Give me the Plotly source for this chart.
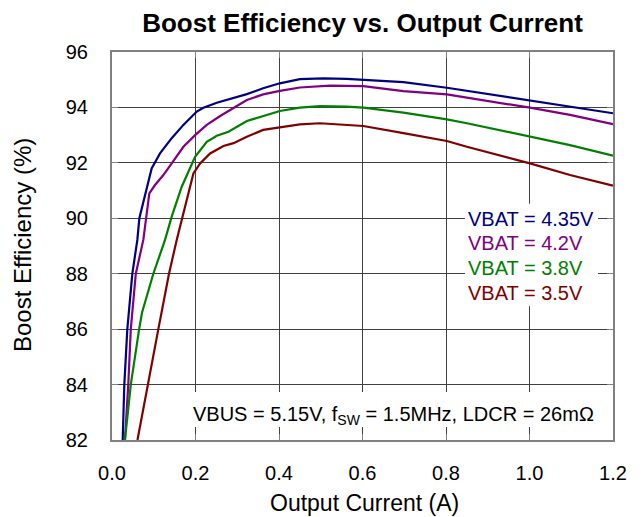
import plotly.graph_objects as go

# Output current (A) and boost efficiency (%) for each VBAT
x_435 = [0.0256, 0.0295, 0.0367, 0.0487, 0.0607, 0.0655, 0.095, 0.115, 0.143, 0.171, 0.203, 0.219, 0.251,
         0.299, 0.323, 0.362, 0.402, 0.450, 0.506, 0.562, 0.602, 0.698, 0.802, 0.850, 1.001, 1.097, 1.2]
y_435 = [82.0, 84.0, 86.0, 88.0, 89.22, 90.0, 91.80, 92.34, 92.89, 93.37, 93.85, 93.99, 94.17,
         94.37, 94.48, 94.69, 94.87, 95.02, 95.05, 95.03, 94.99, 94.91, 94.71, 94.60, 94.27, 94.05, 93.79]

x_42 = [0.031, 0.039, 0.045, 0.057, 0.075, 0.0894, 0.103, 0.123, 0.143, 0.171, 0.199, 0.227, 0.259,
        0.291, 0.323, 0.362, 0.402, 0.450, 0.522, 0.602, 0.698, 0.802, 0.850, 1.001, 1.097, 1.2]
y_42 = [82.0, 84.0, 86.0, 88.0, 89.22, 90.90, 91.20, 91.56, 91.98, 92.58, 93.00, 93.37, 93.69,
        93.99, 94.27, 94.47, 94.60, 94.72, 94.79, 94.77, 94.59, 94.47, 94.36, 93.99, 93.73, 93.40]

x_38 = [0.031, 0.045, 0.065, 0.072, 0.099, 0.127, 0.143, 0.167, 0.199, 0.227, 0.251, 0.279, 0.323,
        0.362, 0.402, 0.450, 0.498, 0.562, 0.602, 0.698, 0.802, 0.850, 1.001, 1.097, 1.2]
y_38 = [82.0, 84.0, 86.0, 86.6, 88.0, 89.22, 90.06, 91.14, 92.22, 92.76, 92.98, 93.12, 93.51,
        93.69, 93.87, 93.99, 94.05, 94.03, 93.99, 93.81, 93.57, 93.43, 92.94, 92.64, 92.26]

x_35 = [0.061, 0.0855, 0.111, 0.1365, 0.155, 0.179, 0.195, 0.211, 0.235, 0.267, 0.291, 0.323, 0.362,
        0.402, 0.450, 0.498, 0.562, 0.602, 0.698, 0.802, 0.850, 1.001, 1.097, 1.2]
y_35 = [82.0, 84.0, 86.0, 88.0, 89.22, 90.66, 91.62, 91.98, 92.34, 92.61, 92.71, 92.94, 93.19,
        93.28, 93.39, 93.43, 93.37, 93.33, 93.07, 92.79, 92.58, 91.98, 91.56, 91.18]

series_names = ["VBAT = 4.35V", "VBAT = 4.2V", "VBAT = 3.8V", "VBAT = 3.5V"]
series_colors = ["#000080", "#800080", "#008000", "#800000"]
series_x = [x_435, x_42, x_38, x_35]
series_y = [y_435, y_42, y_38, y_35]

x_ticks = [0.0, 0.2, 0.4, 0.6, 0.8, 1.0, 1.2]
x_tick_labels = ["0.0", "0.2", "0.4", "0.6", "0.8", "1.0", "1.2"]
y_ticks = [82, 84, 86, 88, 90, 92, 94, 96]

FONT = "Liberation Sans, Arial, sans-serif"
W, H = 642, 517
L, R, T, B = 112, 29, 52, 77

fig = go.Figure()
for xs, ys, name, col in zip(series_x, series_y, series_names, series_colors):
    fig.add_trace(go.Scatter(x=xs, y=ys, mode="lines", name=name,
                             line=dict(color=col, width=2.2), showlegend=False))

# legend box (white background over grid)
fig.add_shape(type="rect", xref="x", yref="y", x0=0.8455, x1=1.164, y0=86.83, y1=90.52,
              fillcolor="white", line=dict(width=0), layer="above")
legend_y = [89.97, 89.11, 88.21, 87.30]
for name, col, ly in zip(series_names, series_colors, legend_y):
    fig.add_annotation(x=0.848, y=ly, xref="x", yref="y", text=name, showarrow=False,
                       xanchor="left", yanchor="middle",
                       font=dict(family=FONT, size=20, color=col))

# conditions box
fig.add_shape(type="rect", xref="x", yref="y", x0=0.187, x1=1.169, y0=82.47, y1=83.73,
              fillcolor="white", line=dict(width=0), layer="above")
fig.add_annotation(x=0.675, y=82.9, xref="x", yref="y",
                   text="VBUS = 5.15V, f<sub>SW</sub> = 1.5MHz, LDCR = 26mΩ",
                   showarrow=False, xanchor="center", yanchor="middle",
                   font=dict(family=FONT, size=20, color="black"))

# axis titles as annotations (pixel-positioned via paper coords)
fig.add_annotation(x=(364 - L) / (W - L - R), y=-(503 - (H - B)) / (H - T - B),
                   xref="paper", yref="paper", text="Output Current (A)", showarrow=False,
                   xanchor="center", yanchor="middle",
                   font=dict(family=FONT, size=23, color="black"))
fig.add_annotation(x=-(L - 22) / (W - L - R), y=1 - (245 - T) / (H - T - B),
                   xref="paper", yref="paper", text="Boost Efficiency (%)", showarrow=False,
                   textangle=-90, xanchor="center", yanchor="middle",
                   font=dict(family=FONT, size=24, color="black"))

fig.update_layout(
    width=W, height=H,
    margin=dict(l=L, r=R, t=T, b=B, autoexpand=False),
    paper_bgcolor="white", plot_bgcolor="white",
    title=dict(text="<b>Boost Efficiency vs. Output Current</b>", x=362.5 / W, xanchor="center",
               y=1 - 23 / H, yanchor="middle", yref="container",
               font=dict(family=FONT, size=26, color="black")),
    font=dict(family=FONT, color="black"),
)
fig.update_xaxes(range=[0, 1.2], tickvals=x_ticks, ticktext=x_tick_labels,
                 showgrid=True, gridcolor="#404040", gridwidth=1,
                 showline=True, linecolor="#808080", linewidth=2, mirror="ticks",
                 ticks="inside", ticklen=6, tickcolor="#808080",
                 tickfont=dict(family=FONT, size=20, color="black"),
                 ticklabelstandoff=14, zeroline=False, automargin=False)
fig.update_yaxes(range=[82, 96], tickvals=y_ticks,
                 showgrid=True, gridcolor="#404040", gridwidth=1,
                 showline=True, linecolor="#808080", linewidth=2, mirror="ticks",
                 ticks="inside", ticklen=6, tickcolor="#808080",
                 tickfont=dict(family=FONT, size=20, color="black"),
                 ticklabelstandoff=18, zeroline=False, automargin=False)

fig.write_html("out.html", config={"displayModeBar": False},
               post_script="document.body.style.margin='0';document.body.style.overflow='hidden';")
